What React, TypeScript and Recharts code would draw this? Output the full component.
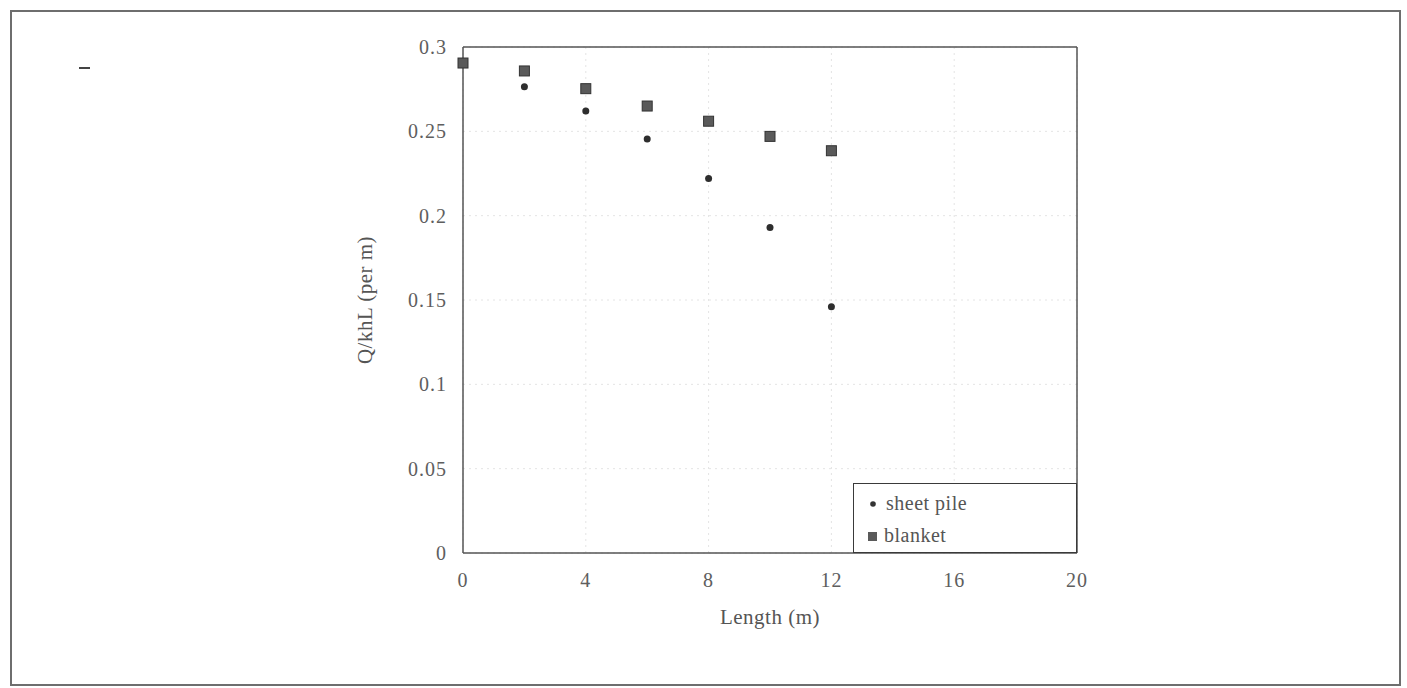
import React from 'react'
import {
  ScatterChart, Scatter, XAxis, YAxis, CartesianGrid, Legend, ReferenceLine
} from 'recharts'

// lengths (m) along the x axis
const lengths = [0, 2, 4, 6, 8, 10, 12]
// Q/khL per m
const sheetPile = [0.29, 0.2765, 0.262, 0.2455, 0.222, 0.193, 0.146]
const blanket = [0.2905, 0.2858, 0.2753, 0.265, 0.256, 0.247, 0.2385]

const xTicks = [0, 4, 8, 12, 16, 20]
const yTicks = [0, 0.05, 0.1, 0.15, 0.2, 0.25, 0.3]

const sheetData = lengths.map((x, i) => ({ x, y: sheetPile[i] }))
const blanketData = lengths.map((x, i) => ({ x, y: blanket[i] }))

const FONT = '"Liberation Serif", "DejaVu Serif", serif'
const tickStyle = { fontFamily: FONT, fontSize: 20, fill: '#5e5e5e', letterSpacing: 1 }

const Dot = (p: any) => <circle cx={p.cx} cy={p.cy} r={3.5} fill="#2e2e2e" />
const Sq = (p: any) => (
  <rect x={p.cx - 5} y={p.cy - 5} width={10} height={10} fill="#5a5a5a" stroke="#333" strokeWidth={1} />
)

function LegendBox() {
  return (
    <div style={{
      boxSizing: 'border-box', width: 224, height: 70, background: '#fff',
      border: '1.5px solid #3a3a3a', fontFamily: FONT, fontSize: 20, color: '#555',
      padding: '3px 0 0 12px', letterSpacing: 0.5
    }}>
      <div style={{ display: 'flex', alignItems: 'center', height: 33 }}>
        <svg width={14} height={14} style={{ marginRight: 6 }}><circle cx={7} cy={7} r={2.8} fill="#333" /></svg>
        sheet pile
      </div>
      <div style={{ display: 'flex', alignItems: 'center', height: 31 }}>
        <svg width={14} height={14} style={{ marginRight: 4 }}><rect x={2} y={3} width={9} height={9} fill="#5a5a5a" /></svg>
        blanket
      </div>
    </div>
  )
}

export default function App() {
  return (
    <div style={{ position: 'absolute', left: 0, top: 0, width: 1407, height: 688, background: '#fff' }}>
      <div style={{
        position: 'absolute', left: 10, top: 10, width: 1391, height: 676,
        boxSizing: 'border-box', border: '2px solid #6e6e6e'
      }} />
      <div style={{ position: 'absolute', left: 79, top: 67, width: 11, height: 2, background: '#444' }} />
      <div style={{ position: 'absolute', left: 0, top: 0 }}>
        <ScatterChart width={1407} height={688} margin={{ top: 47, right: 330, bottom: 55, left: 267 }}>
          <CartesianGrid stroke="#e4e4e4" strokeDasharray="2 4" />
          <XAxis
            type="number" dataKey="x" domain={[0, 20]} ticks={xTicks} height={80}
            tick={tickStyle} tickLine={false} tickMargin={14}
            axisLine={{ stroke: '#555', strokeWidth: 1.5 }}
            label={{ value: 'Length (m)', position: 'insideBottom', offset: 9, style: { fontFamily: FONT, fontSize: 21, fill: '#555', letterSpacing: 0.5 } }}
          />
          <YAxis
            type="number" dataKey="y" domain={[0, 0.3]} ticks={yTicks} width={196}
            tick={tickStyle} tickLine={false} tickMargin={10}
            axisLine={{ stroke: '#555', strokeWidth: 1.5 }}
            label={{ value: 'Q/khL (per m)', angle: -90, position: 'center', style: { fontFamily: FONT, fontSize: 21, fill: '#555', letterSpacing: 0.5, textAnchor: 'middle' } }}
          />
          <ReferenceLine y={0.3} stroke="#555" strokeWidth={1.5} />
          <ReferenceLine x={20} stroke="#555" strokeWidth={1.5} />
          <Legend
            layout="vertical" align="center" verticalAlign="middle"
            content={() => <LegendBox />}
            wrapperStyle={{ left: 853, top: 483, width: 224, height: 70 }}
          />
          <Scatter name="sheet pile" data={sheetData} shape={Dot} isAnimationActive={false} />
          <Scatter name="blanket" data={blanketData} shape={Sq} isAnimationActive={false} />
        </ScatterChart>
      </div>
    </div>
  )
}
